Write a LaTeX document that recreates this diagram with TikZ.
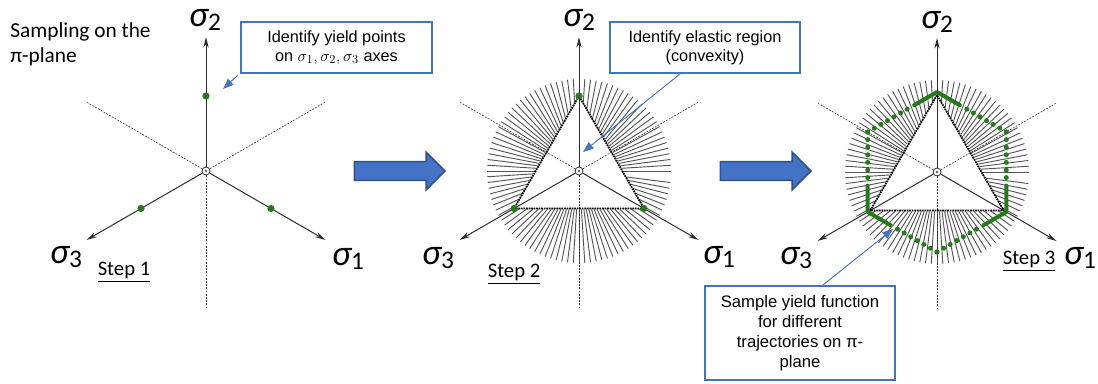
\documentclass[tikz,border=0pt]{standalone}
\usepackage{fontspec}
\setmainfont{Carlito}
\newfontfamily\arialf{Liberation Sans}
\usetikzlibrary{arrows.meta,shapes.arrows,calc}
\definecolor{boxblue}{HTML}{4472C4}
\definecolor{arrdraw}{HTML}{2F528F}
\definecolor{ygreen}{RGB}{38,122,28}
\definecolor{axgray}{RGB}{45,45,45}
\definecolor{raygray}{RGB}{85,85,85}
\newcommand\sigl[1]{{\itshape σ}\raisebox{-3pt}{\fontsize{19}{19}\selectfont #1}}
\tikzset{
  axis/.style={draw=axgray, line width=0.75pt, -{Stealth[length=8pt,width=4pt]}},
  dashax/.style={draw=axgray, line width=0.45pt, dash pattern=on 1.4pt off 1pt},
  ray/.style={draw=raygray, line width=0.7pt},
  tri/.style={draw=black, line width=1.3pt, dash pattern=on 1.3pt off 0.6pt},
  gline/.style={draw=ygreen, line width=3pt, line join=round, line cap=round},
  origin/.style={circle, draw=axgray, fill=white, line width=0.6pt, minimum size=6pt, inner sep=0pt},
  callout/.style={draw=boxblue, line width=1.6pt, fill=white, align=center, inner sep=0pt,
    font=\arialf\fontsize{12.2}{14.5}\selectfont},
  callarrow/.style={draw=boxblue, line width=0.7pt, -{Triangle[length=8pt,width=6pt]}},
  bigarrow/.style={single arrow, draw=arrdraw, fill=boxblue, line width=1.2pt,
    minimum height=68pt, inner xsep=0pt, inner ysep=6.4pt,
    single arrow head extend=7.1pt, single arrow tip angle=90},
  siglab/.style={font=\fontsize{27}{27}\selectfont, inner sep=0pt},
  steplab/.style={font=\fontsize{15.5}{18}\selectfont, inner sep=0pt},
  titlelab/.style={font=\fontsize{16}{19}\selectfont, align=left, inner sep=0pt}
}
\begin{document}
\begin{tikzpicture}[x=0.75pt,y=-0.75pt]
\useasboundingbox (0,0) rectangle (1098,384);

\foreach \p/\cx/\cy/\R in {1/206/171/75, 2/579/171/75, 3/937/172/77}{
  \begin{scope}[shift={(\cx,\cy)},yscale=-1]
    \ifnum\p>1
      \foreach \t in {0,3.6,...,356.4}{
        \pgfmathsetmacro\u{mod(\t+30,120)-60}
        \pgfmathsetmacro\rs{\R/2/cos(\u)+1}
        \draw[ray] (\t:\rs) -- (\t:92);
      }
    \fi
    \node[origin] (o\p) at (0,0) {};
    \fill[axgray] (0,0) circle (1.1);
    \coordinate (d\p-1) at (30:137);
    \coordinate (d\p-2) at (150:137);
    \coordinate (d\p-3) at (270:137);
    \coordinate (x\p-1) at (330:138);
    \coordinate (x\p-2) at (90:134);
    \coordinate (x\p-3) at (210:138);
    \foreach \k in {1,2,3}{
      \draw[dashax] (o\p) -- (d\p-\k);
      \draw[axis] (o\p) -- (x\p-\k);
    }
    \ifnum\p>1
      \draw[tri] (90:\R) -- (210:\R) -- (330:\R) -- cycle;
    \fi
    \ifnum\p<3
      \foreach \a in {90,210,330}{
        \fill[ygreen] (\a:\R) circle (3.6);
      }
    \fi
    \ifnum\p=3
      \foreach \a in {90,210,330}{
        \coordinate (hv) at (\a:80);
        \coordinate (hl) at ({\a+60}:80);
        \coordinate (hr) at ({\a-60}:80);
        \draw[gline] ($(hv)!0.33!(hl)$) -- (hv) -- ($(hv)!0.33!(hr)$);
        \foreach \f in {0.43,0.525,0.62,0.715,0.81,0.905,1.0}{
          \fill[ygreen] ($(hv)!\f!(hl)$) circle (2.5);
          \fill[ygreen] ($(hv)!\f!(hr)$) circle (2.5);
        }
      }
    \fi
  \end{scope}
}

% axis labels
\node[siglab] (s1-2) at (205,20) {\sigl{2}};
\node[siglab] (s1-3) at (66,257) {\sigl{3}};
\node[siglab] (s1-1) at (348,259) {\sigl{1}};
\node[siglab] (s2-2) at (579,20) {\sigl{2}};
\node[siglab] (s2-3) at (438,258) {\sigl{3}};
\node[siglab] (s2-1) at (719,257) {\sigl{1}};
\node[siglab] (s3-2) at (937,22) {\sigl{2}};
\node[siglab] (s3-3) at (796,258) {\sigl{3}};
\node[siglab] (s3-1) at (1080,258) {\sigl{1}};

% step labels
\node[steplab] (st1) at (124,272) {\underline{Step 1}};
\node[steplab] (st2) at (514,274) {\underline{Step 2}};
\node[steplab] (st3) at (1029,261) {\underline{Step 3}};

% title
\node[titlelab, anchor=north west] (title) at (10,22) {Sampling on the\\π-plane};

% big arrows
\node[bigarrow] (arr1) at (395,171) {};
\node[bigarrow] (arr2) at (761,171) {};

% callouts
\node[callout, minimum width=143pt, minimum height=38pt] (b1) at (336.5,47.5)
  {Identify yield points\\on $\sigma_1,\sigma_2,\sigma_3$ axes};
\node[callout, minimum width=142.5pt, minimum height=38pt] (b2) at (705,47.5)
  {Identify elastic region\\(convexity)};
\node[callout, minimum width=142.5pt, minimum height=70.5pt, font=\arialf\fontsize{12.5}{15}\selectfont] (b3) at (800,333)
  {Sample yield function\\for different\\trajectories on π-\\plane};

\coordinate (t1) at (223,89);
\coordinate (t2) at (583,152);
\coordinate (t3) at (893,229);
\draw[callarrow] ($(b1.south west)+(-2,1)$) -- (t1);
\draw[callarrow] ($(b2.south west)!0.37!(b2.south east)$) -- (t2);
\draw[callarrow] ($(b3.north west)!0.62!(b3.north east)$) -- (t3);
\end{tikzpicture}
\end{document}
